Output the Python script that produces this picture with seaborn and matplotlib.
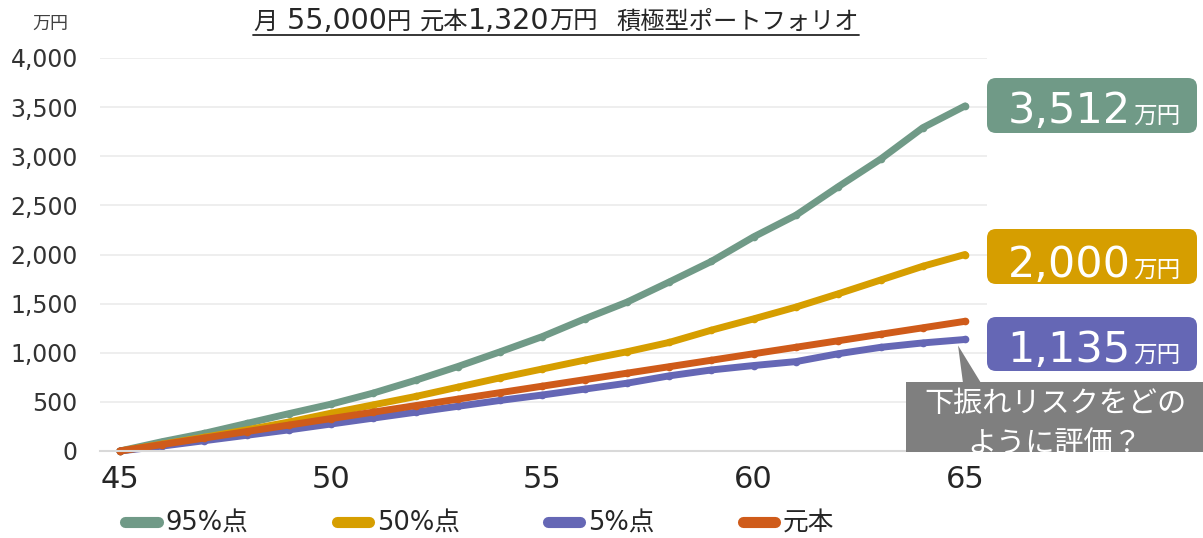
import matplotlib
matplotlib.use("Agg")
import matplotlib.pyplot as plt
import numpy as np
import pandas as pd
import seaborn as sns
from matplotlib.patches import FancyBboxPatch, Rectangle, Polygon
from matplotlib.lines import Line2D
from matplotlib.transforms import IdentityTransform
from matplotlib.ticker import FuncFormatter
from matplotlib.offsetbox import TextArea, HPacker, AnchoredOffsetbox

# ---- data (万円) ----
ages = list(range(45, 66))
p95 = [0, 95, 180, 280, 380, 477, 590, 720, 860, 1010, 1165, 1345, 1515, 1720,
       1930, 2180, 2400, 2690, 2970, 3290, 3512]
p50 = [0, 70, 140, 215, 295, 385, 470, 555, 650, 745, 835, 925, 1010, 1105,
       1230, 1345, 1465, 1600, 1740, 1880, 2000]
p5 = [0, 50, 105, 160, 215, 275, 335, 395, 455, 515, 570, 630, 690, 765,
      825, 870, 910, 990, 1055, 1100, 1135]
principal = [0, 66, 132, 198, 264, 330, 396, 462, 528, 594, 660, 726, 792, 858,
             924, 990, 1056, 1122, 1188, 1254, 1320]
series_names = ["95%点", "50%点", "5%点", "元本"]
colors = ["#709a87", "#d69e00", "#6567b5", "#cf5b1a"]
y_ticks = [0, 500, 1000, 1500, 2000, 2500, 3000, 3500, 4000]
x_ticks = [45, 50, 55, 60, 65]
title_parts = ["月", " 55,000", "円", " ", "元本", "1,320", "万円", "  ", "積極型ポートフォリオ"]
unit = "万円"
question = ["下振れリスクをどの", "ように評価？"]

df = pd.DataFrame({
    "age": ages * 4,
    "value": p95 + p50 + p5 + principal,
    "series": sum([[n] * len(ages) for n in series_names], []),
})

sns.set_theme(style="white")
LATIN = ["DejaVu Sans", "Noto Sans CJK JP"]
CJK = ["Noto Sans CJK JP", "DejaVu Sans"]
plt.rcParams["font.family"] = LATIN

W, H = 1203, 538
fig = plt.figure(figsize=(W / 100, H / 100), dpi=100)
ax = fig.add_axes([100 / W, 1 - 451 / H, 887 / W, 393 / H])

sns.lineplot(data=df, x="age", y="value", hue="series", hue_order=series_names,
             palette=colors, linewidth=5, marker="o", markersize=5.5,
             markeredgewidth=0, solid_capstyle="round", legend=False,
             clip_on=False, ax=ax)

ax.set_xlim(44.53, 65.52)
ax.set_ylim(0, 4000)
ax.set_xticks(x_ticks)
ax.set_yticks(y_ticks)
ax.yaxis.set_major_formatter(FuncFormatter(lambda v, _: f"{v:,.0f}"))
ax.set_xlabel("")
ax.set_ylabel("")
ax.yaxis.grid(True, color="#ebebeb", linewidth=1.2)
ax.xaxis.grid(False)
for s in ["left", "right", "top"]:
    ax.spines[s].set_visible(False)
ax.spines["bottom"].set_color("#d9d9d9")
ax.spines["bottom"].set_linewidth(1.5)
ax.tick_params(axis="y", length=0, labelsize=17, colors="#333333", pad=16)
ax.tick_params(axis="x", length=0, labelsize=22, colors="#262626", pad=10)

# unit label
fig.text(50 / W, 1 - 24 / H, unit, ha="center", va="center", fontsize=13,
         family=CJK, color="#404040")

# title: CJK runs and numeric runs in their own fonts, underlined
areas = []
for part in title_parts:
    is_cjk = any(ord(ch) > 0x2000 for ch in part)
    props = dict(fontsize=17.5, family=CJK, color="#262626") if is_cjk else \
        dict(fontsize=20.5, family=LATIN, color="#262626")
    areas.append(TextArea(part, textprops=props))
pack = HPacker(children=areas, align="baseline", pad=0, sep=0)
title_box = AnchoredOffsetbox(loc="center", child=pack, pad=0, borderpad=0,
                              frameon=False, bbox_to_anchor=(556 / W, 1 - 21 / H),
                              bbox_transform=fig.transFigure)
fig.add_artist(title_box)
fig.canvas.draw()
bb = title_box.get_window_extent(fig.canvas.get_renderer())
fig.add_artist(Line2D([bb.x0, bb.x1], [H - 35, H - 35], transform=IdentityTransform(),
                      color="#262626", linewidth=1.3))

# legend
handles = [Line2D([0], [0], color=c, linewidth=8, solid_capstyle="round")
           for c in colors]
fig.legend(handles, series_names, loc="center", bbox_to_anchor=(480 / W, 1 - 524 / H),
           ncol=4, frameon=False, fontsize=18.5, handlelength=1.25,
           handletextpad=0.3, columnspacing=3.45, labelcolor="#262626")


def box(x0, y0, x1, y1, color, rounded=True):
    if rounded:
        p = FancyBboxPatch((x0, H - y1), x1 - x0, y1 - y0,
                           boxstyle="round,pad=0,rounding_size=9",
                           transform=IdentityTransform(), facecolor=color,
                           edgecolor="none")
    else:
        p = Rectangle((x0, H - y1), x1 - x0, y1 - y0, transform=IdentityTransform(),
                      facecolor=color, edgecolor="none")
    fig.add_artist(p)
    return p


# value boxes at the end of each line
for val, color, (y0, y1, base) in zip(
        [p95[-1], p50[-1], p5[-1]], colors[:3],
        [(78, 133, 123), (229, 284, 277), (317, 371, 362)]):
    box(987, y0, 1197, y1, color)
    fig.text(1131 / W, 1 - base / H, f"{val:,}", ha="right", va="baseline",
             fontsize=31, family=LATIN, color="white")
    fig.text(1133 / W, 1 - base / H, unit, ha="left", va="baseline",
             fontsize=17, family=CJK, color="white")

# question callout pointing to the 5% line end
gray = "#7f7f7f"
rect = box(906, 382, 1203, 452, gray, rounded=False)
tip = ax.transData.transform((65, p5[-1]))
fig.add_artist(Polygon([(tip[0] - 7, tip[1] - 6), (963, H - 383), (981, H - 383)],
                       closed=True, transform=IdentityTransform(),
                       facecolor=gray, edgecolor="none"))
for i, line in enumerate(question):
    tx = fig.text(1055 / W, 1 - (412 + 40 * i) / H, line, ha="center",
                  va="baseline", fontsize=21, family=CJK, color="white")
    tx.set_clip_path(rect)

fig.savefig("out.png", dpi=100)
